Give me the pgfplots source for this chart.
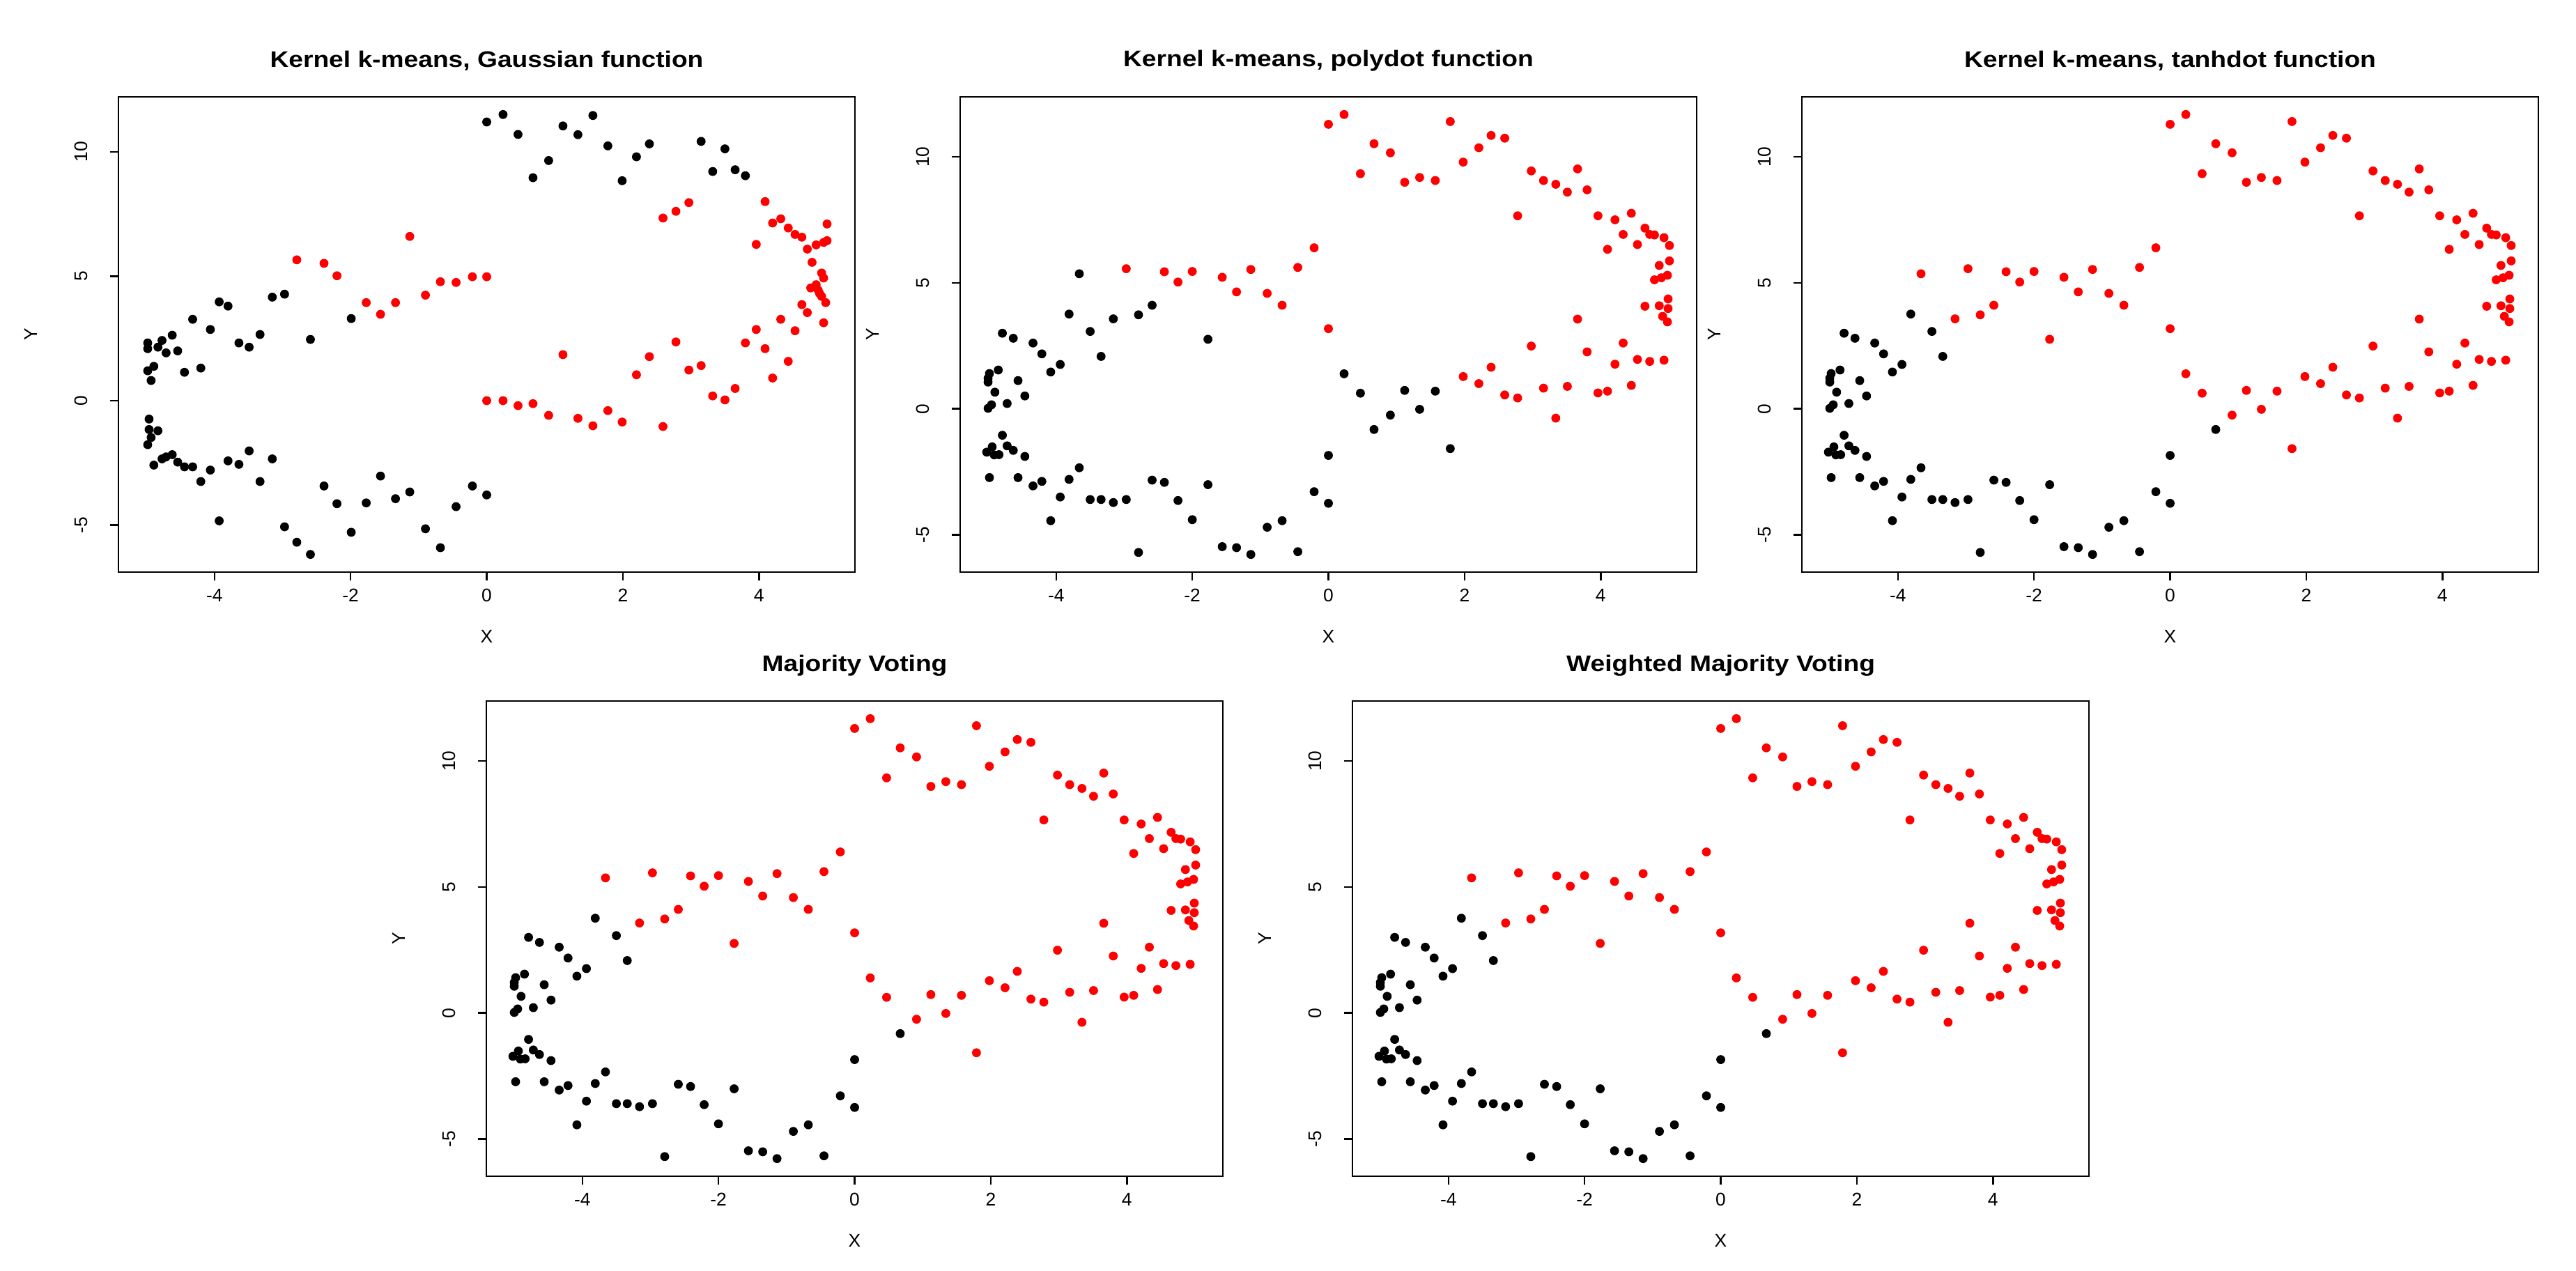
\documentclass[border=0pt]{standalone}
\usepackage{fontspec}
\setmainfont{Liberation Sans}
\usepackage{pgfplots}
\usepackage{pgfplotstable}
\pgfplotsset{compat=1.18}

% panel 1 (Gaussian): own sample
\pgfplotstableread{
x y c
0 11.20 k
0.24 11.50 k
0.46 10.70 k
0.68 8.96 k
0.91 9.65 k
1.12 11.04 k
1.34 10.69 k
1.56 11.46 k
1.78 10.24 k
1.99 8.84 k
2.20 9.80 k
2.39 10.32 k
3.15 10.42 k
3.32 9.21 k
3.50 10.12 k
3.65 9.28 k
3.80 9.04 k
-4.98 2.32 k
-4.98 2.09 k
-4.98 1.20 k
-4.93 0.81 k
-4.89 1.38 k
-4.83 2.15 k
-4.77 2.42 k
-4.71 1.92 k
-4.62 2.63 k
-4.54 2.00 k
-4.44 1.14 k
-4.32 3.27 k
-4.20 1.31 k
-4.06 2.86 k
-3.93 3.97 k
-3.80 3.80 k
-3.64 2.32 k
-3.49 2.15 k
-3.33 2.66 k
-3.15 4.16 k
-2.97 4.28 k
-2.59 2.46 k
-1.99 3.30 k
-2.79 5.66 r
-2.39 5.52 r
-2.20 5.02 r
-1.77 3.94 r
-1.56 3.47 r
-1.34 3.94 r
-1.13 6.60 r
-0.90 4.24 r
-0.68 4.78 r
-0.45 4.75 r
-0.21 4.98 r
0 4.98 r
2.59 7.34 r
2.78 7.61 r
2.97 7.96 r
3.96 6.28 r
4.09 8.00 r
4.20 7.14 r
4.32 7.31 r
4.43 6.94 r
4.53 6.68 r
4.63 6.57 r
4.71 6.09 r
4.78 5.56 r
4.84 6.26 r
4.92 5.13 r
4.95 4.93 r
5.00 7.10 r
5.00 6.43 r
4.95 6.36 r
4.76 4.53 r
4.84 4.66 r
4.87 4.44 r
4.89 4.31 r
4.92 4.19 r
4.98 3.94 r
4.63 3.86 r
4.71 3.54 r
4.95 3.13 r
4.32 3.27 r
4.53 2.81 r
3.96 2.86 r
3.80 2.32 r
4.09 2.09 r
4.43 1.58 r
4.20 0.91 r
3.65 0.49 r
3.50 0.03 r
3.32 0.19 r
3.15 1.41 r
2.97 1.23 r
2.78 2.36 r
2.39 1.77 r
2.20 1.04 r
1.12 1.85 r
2.59 -1.04 r
1.99 -0.86 r
1.78 -0.40 r
1.56 -1.01 r
1.34 -0.71 r
0.91 -0.59 r
0.68 -0.12 r
0.46 -0.20 r
0.24 0.00 r
0 0.00 r
-4.96 -0.74 k
-4.96 -1.16 k
-4.83 -1.21 k
-4.93 -1.48 k
-4.98 -1.77 k
-4.89 -2.59 k
-4.77 -2.34 k
-4.71 -2.26 k
-4.62 -2.17 k
-4.54 -2.47 k
-4.44 -2.66 k
-4.32 -2.66 k
-4.20 -3.25 k
-4.06 -2.79 k
-3.93 -4.83 k
-3.80 -2.42 k
-3.64 -2.56 k
-3.49 -2.02 k
-3.33 -3.25 k
-3.15 -2.34 k
-2.97 -5.07 k
-2.79 -5.69 k
-2.59 -6.18 k
-2.39 -3.43 k
-2.20 -4.14 k
-1.99 -5.29 k
-1.77 -4.11 k
-1.56 -3.03 k
-1.34 -3.94 k
-1.13 -3.67 k
-0.90 -5.15 k
-0.68 -5.91 k
-0.45 -4.26 k
-0.21 -3.43 k
0 -3.79 k
}\tabA

% panels 2-5: shared sample; p = polydot class, t = tanhdot / voting class
\pgfplotstableread{
x y p t
0 11.29 r r
0.23 11.68 r r
1.79 11.40 r r
0.67 10.52 r r
0.91 10.16 r r
0.47 9.33 r r
1.12 8.99 r r
1.34 9.18 r r
1.57 9.06 r r
1.98 9.79 r r
2.21 10.36 r r
2.39 10.85 r r
2.59 10.74 r r
2.78 7.66 r r
2.98 9.44 r r
3.16 9.06 r r
3.34 8.91 r r
3.51 8.60 r r
3.66 9.52 r r
3.80 8.69 r r
3.96 7.66 r r
4.21 7.50 r r
4.45 7.76 r r
4.33 6.92 r r
4.65 7.17 r r
4.72 6.92 r r
4.79 6.90 r r
4.93 6.79 r r
5.01 6.48 r r
4.54 6.52 r r
4.10 6.33 r r
5.01 5.87 r r
4.86 5.69 r r
4.79 5.12 r r
4.89 5.20 r r
4.98 5.30 r r
4.99 4.36 r r
4.65 4.07 r r
4.86 4.09 r r
4.99 3.98 r r
4.91 3.67 r r
4.98 3.45 r r
3.66 3.56 r r
2.98 2.49 r r
3.80 2.26 r r
4.33 2.61 r r
4.21 1.77 r r
4.54 1.96 r r
4.72 1.88 r r
4.93 1.93 r r
4.45 0.93 r r
4.10 0.70 r r
3.96 0.63 r r
3.51 0.89 r r
3.34 -0.37 r r
3.16 0.82 r r
2.78 0.43 r r
2.59 0.55 r r
2.39 1.65 r r
2.21 1.00 r r
1.98 1.28 r r
0 3.18 r r
-0.21 6.39 r r
-0.45 5.61 r r
-0.68 4.11 r r
-0.90 4.58 r r
-1.14 5.53 r r
-1.35 4.64 r r
-1.56 5.22 r r
-2.00 5.45 r r
-2.21 5.03 r r
-2.41 5.44 r r
-2.97 5.56 r r
1.79 -1.58 k r
1.57 0.70 k r
1.34 -0.02 k r
1.12 0.73 k r
0.91 -0.25 k r
0.47 0.62 k r
0.23 1.39 k r
-1.77 2.76 k r
-2.59 4.11 k r
-2.79 3.73 k r
-3.16 3.57 k r
-3.66 5.36 k r
0.67 -0.82 k k
-3.81 3.76 k k
-3.50 3.07 k k
-3.34 2.08 k k
-4.79 3.00 k k
-4.63 2.80 k k
-4.34 2.61 k k
-4.21 2.18 k k
-3.94 1.76 k k
-4.08 1.46 k k
-4.85 1.54 k k
-4.98 1.40 k k
-5.00 1.21 k k
-5.00 1.06 k k
-4.56 1.12 k k
-4.90 0.66 k k
-4.46 0.51 k k
-4.72 0.21 k k
-4.95 0.16 k k
-5.00 0.02 k k
-4.79 -1.05 k k
-4.94 -1.51 k k
-4.72 -1.47 k k
-4.63 -1.65 k k
-5.02 -1.72 k k
-4.91 -1.83 k k
-4.84 -1.82 k k
-4.46 -1.89 k k
-3.66 -2.34 k k
-4.98 -2.73 k k
-4.56 -2.73 k k
-4.34 -3.06 k k
-4.21 -2.88 k k
-3.81 -2.80 k k
-3.94 -3.50 k k
-3.50 -3.60 k k
-3.34 -3.60 k k
-3.16 -3.72 k k
-2.97 -3.60 k k
-4.08 -4.44 k k
-2.59 -2.83 k k
-2.41 -2.92 k k
-2.21 -3.64 k k
-2.00 -4.40 k k
-1.77 -3.01 k k
-2.79 -5.70 k k
-1.56 -5.47 k k
-1.35 -5.51 k k
-1.14 -5.78 k k
-0.90 -4.70 k k
-0.68 -4.44 k k
-0.45 -5.67 k k
-0.21 -3.29 k k
0 -3.75 k k
0 -1.85 k k
}\tabB

\pgfplotsset{
  rpanel/.style={
    scale only axis, width=10.57cm, height=6.82cm,
    xmin=-5.41, xmax=5.41,
    xtick={-4,-2,0,2,4}, xticklabels={-4,-2,0,2,4},
    ytick={-5,0,5,10}, yticklabels={-5,0,5,10},
    tick align=outside, xtick pos=bottom, ytick pos=left,
    major tick length=0.12cm,
    axis line style={line width=0.7pt},
    tick style={line width=0.7pt, black},
    tick label style={font=\fontsize{7.5}{8}\selectfont},
    xticklabel style={anchor=north},
    yticklabel style={rotate=90, anchor=south},
    yticklabel shift=0.2cm,
    mark size=1.62pt,
    every mark/.append style={xscale=1.22},
  },
  rpts/.style={scatter, only marks, scatter src=explicit symbolic,
    scatter/classes={r={mark=*, red}, k={mark=*, black}}},
}

\begin{document}
\begin{tikzpicture}
\useasboundingbox (0,0) rectangle (36.97,18.23);

\begin{axis}[rpanel, at={(1.70cm,10.02cm)}, anchor=south west,
             ymin=-6.89, ymax=12.21]
  \addplot[rpts] table[x=x, y=y, meta=c] \tabA;
\end{axis}

\begin{axis}[rpanel, at={(13.78cm,10.02cm)}, anchor=south west,
             ymin=-6.48, ymax=12.38]
  \addplot[rpts] table[x=x, y=y, meta=p] \tabB;
\end{axis}

\begin{axis}[rpanel, at={(25.86cm,10.02cm)}, anchor=south west,
             ymin=-6.48, ymax=12.38]
  \addplot[rpts] table[x=x, y=y, meta=t] \tabB;
\end{axis}

\begin{axis}[rpanel, at={(6.98cm,1.35cm)}, anchor=south west,
             ymin=-6.48, ymax=12.38]
  \addplot[rpts] table[x=x, y=y, meta=t] \tabB;
\end{axis}

\begin{axis}[rpanel, at={(19.41cm,1.35cm)}, anchor=south west,
             ymin=-6.48, ymax=12.38]
  \addplot[rpts] table[x=x, y=y, meta=t] \tabB;
\end{axis}

% titles
\begin{scope}[every node/.style={font=\fontsize{9.2}{10}\selectfont\bfseries, xscale=1.15}]
  \node at (6.985,17.36) {Kernel k-means, Gaussian function};
  \node at (19.065,17.36) {Kernel k-means, polydot function};
  \node at (31.145,17.36) {Kernel k-means, tanhdot function};
  \node at (12.265,8.68) {Majority Voting};
  \node at (24.695,8.68) {Weighted Majority Voting};
\end{scope}

% axis labels
\begin{scope}[every node/.style={font=\fontsize{7.5}{8}\selectfont}]
  \node at (6.985,9.10) {X};
  \node at (19.065,9.10) {X};
  \node at (31.145,9.10) {X};
  \node at (12.265,0.43) {X};
  \node at (24.695,0.43) {X};
  \node[rotate=90] at (0.44,13.43) {Y};
  \node[rotate=90] at (12.52,13.43) {Y};
  \node[rotate=90] at (24.60,13.43) {Y};
  \node[rotate=90] at (5.72,4.76) {Y};
  \node[rotate=90] at (18.15,4.76) {Y};
\end{scope}
\end{tikzpicture}
\end{document}
